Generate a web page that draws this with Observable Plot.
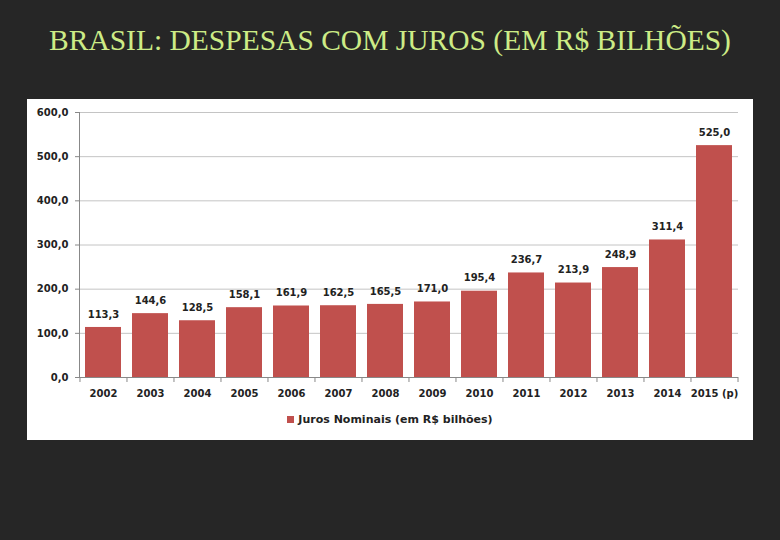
<!DOCTYPE html>
<html>
<head>
<meta charset="utf-8">
<script src="https://cdn.jsdelivr.net/npm/d3@7"></script>
<script src="https://cdn.jsdelivr.net/npm/@observablehq/plot@0.6"></script>
<style>
  html, body { margin: 0; padding: 0; background: #262626; width: 780px; height: 540px; overflow: hidden; }
  #title { position: absolute; left: 0; top: 22px; width: 780px; text-align: center;
    font-family: "Liberation Serif", "DejaVu Serif", serif; font-size: 29.5px; color: #cdec86; line-height: 36px; white-space: nowrap; }
  #panel { position: absolute; left: 27px; top: 99px; width: 726px; height: 341px; background: #ffffff; }
  #legend { position: absolute; left: 0; top: 314px; width: 726px; text-align: center;
    font-family: "DejaVu Sans", sans-serif; font-weight: bold; font-size: 11px; color: #222; }
  #legend .sw { display: inline-block; width: 7px; height: 7px; background: #c0504d; margin-right: 4px; vertical-align: 0px; }
</style>
</head>
<body>
<div id="title">BRASIL: DESPESAS COM JUROS (EM R$ BILHÕES)</div>
<div id="panel">
  <div id="chart"></div>
  <div id="legend"><span class="sw"></span>Juros Nominais (em R$ bilhões)</div>
</div>
<script>
const years = ["2002","2003","2004","2005","2006","2007","2008","2009","2010","2011","2012","2013","2014","2015 (p)"];
const juros = [113.3,144.6,128.5,158.1,161.9,162.5,165.5,171.0,195.4,236.7,213.9,248.9,311.4,525.0];
const yTicks = [0,100,200,300,400,500,600];

const data = years.map((y, i) => ({year: y, value: juros[i]}));
const fmt = v => v.toFixed(1).replace(".", ",");

const W = 726, ML = 52, MR = 15;
const pi = 0.23, po = 0.12;
const step = (W - ML - MR) / (years.length - pi + 2 * po);

const chart = Plot.plot({
  width: W,
  height: 300,
  marginLeft: ML,
  marginRight: MR,
  marginTop: 13,
  marginBottom: 22,
  style: {fontFamily: "DejaVu Sans, sans-serif", fontSize: "10px", fontWeight: "bold", color: "#222", background: "transparent"},
  x: {domain: years, paddingInner: pi, paddingOuter: po, label: null},
  y: {domain: [0, 600], ticks: yTicks, label: null},
  marks: [
    Plot.gridY(yTicks, {stroke: "#c4c4c4", strokeOpacity: 1}),
    Plot.barY(data, {x: "year", y: "value", fill: "#c0504d"}),
    Plot.axisY(yTicks, {tickFormat: fmt, tickSize: 4, tickPadding: 7, stroke: "#888", fontWeight: "bold", fill: "#222"}),
    Plot.frame({anchor: "left", stroke: "#888"}),
    Plot.ruleY([0], {stroke: "#888"}),
    Plot.ruleX(years, {x: d => d, y1: 0, y2: 0, dx: -step / 2, insetBottom: -5, stroke: "#888"}),
    Plot.ruleX([years[years.length - 1]], {x: d => d, y1: 0, y2: 0, dx: step / 2, insetBottom: -5, stroke: "#888"}),
    Plot.axisX({tickSize: 0, tickPadding: 12, fontWeight: "bold", fill: "#222"}),
    Plot.text(data, {x: "year", y: "value", text: d => fmt(d.value), dy: -13, fill: "#222", fontWeight: "bold", fontSize: 10})
  ]
});
document.getElementById("chart").appendChild(chart);
</script>
</body>
</html>
